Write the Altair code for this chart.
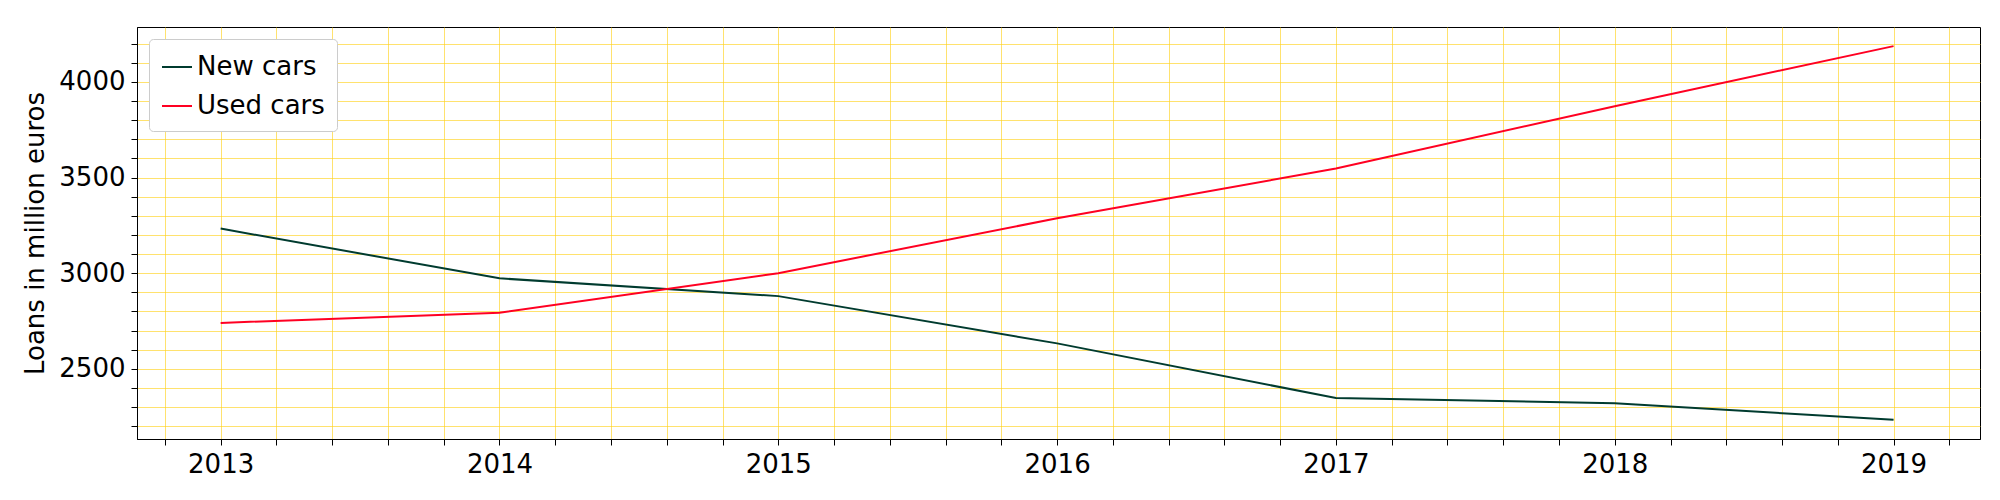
import altair as alt
import pandas as pd

years = [2013, 2014, 2015, 2016, 2017, 2018, 2019]
new_cars = [3233, 2973, 2880, 2633, 2347, 2320, 2233]
used_cars = [2740, 2793, 3000, 3287, 3547, 3873, 4187]

rows = []
for y, n, u in zip(years, new_cars, used_cars):
    rows.append({"year": y, "value": n, "series": "New cars"})
    rows.append({"year": y, "value": u, "series": "Used cars"})
df = pd.DataFrame(rows)

xgrid = [round(2012.8 + 0.2 * i, 1) for i in range(33)]
ygrid = list(range(2200, 4300, 100))

chart = alt.Chart(df).mark_line(strokeWidth=2).encode(
    x=alt.X("year:Q", scale=alt.Scale(domain=[2012.7, 2019.31], nice=False, zero=False),
            axis=alt.Axis(title=None, values=xgrid,
                          labelExpr="abs(datum.value - round(datum.value)) < 0.01 ? format(datum.value, 'd') : ''")),
    y=alt.Y("value:Q", scale=alt.Scale(domain=[2133, 4287], nice=False, zero=False),
            axis=alt.Axis(title="Loans in million euros", values=ygrid,
                          labelExpr="datum.value % 500 == 0 ? format(datum.value, 'd') : ''")),
    color=alt.Color("series:N",
                    scale=alt.Scale(domain=["New cars", "Used cars"], range=["#003b2f", "#ff0022"]),
                    legend=alt.Legend(title=None, orient="top-left", offset=12,
                                      symbolType="stroke", symbolSize=900, symbolStrokeWidth=2,
                                      labelFontSize=26, fillColor="white", strokeColor="#cccccc",
                                      padding=12, cornerRadius=4, rowPadding=10)),
).properties(width=1843, height=412,
             padding={"left": 14, "top": 19, "right": 5, "bottom": 5}).configure_axis(
    gridColor="#ffd21a", gridWidth=0.8, gridOpacity=0.8, domainColor="black",
    tickColor="black", labelFontSize=26, titleFontSize=26, labelColor="black",
    titleColor="black", titleFontWeight="normal", labelFont="DejaVu Sans", titleFont="DejaVu Sans",
    labelPadding=6, tickSize=6, titlePadding=10
).configure_legend(labelFont="DejaVu Sans").configure_view(stroke="black", strokeWidth=1)

chart.save("out.html", embed_options={"renderer": "svg", "actions": False})
